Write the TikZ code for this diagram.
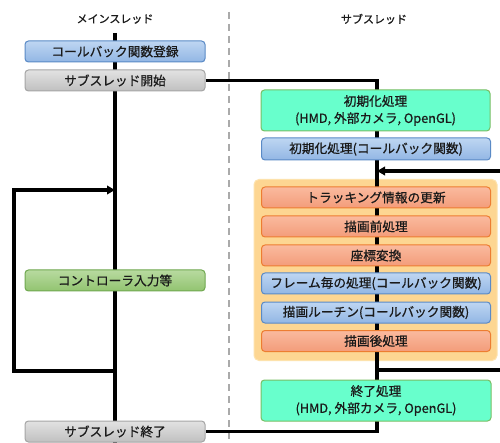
\documentclass[tikz,border=0pt]{standalone}
\usepackage{fontspec}
\setmainfont{Noto Sans CJK JP}
\newfontfamily\boxfont{Noto Sans CJK JP}[FakeBold=0.8]
\usetikzlibrary{arrows.meta}
\pgfdeclarelayer{bg}
\pgfdeclarelayer{lines}
\pgfsetlayers{bg,lines,main}
\definecolor{txt}{HTML}{1A1A1A}
\tikzset{
  box/.style={rectangle, rounded corners=3.5pt, line width=1pt, minimum height=21pt,
    inner sep=0pt, text=txt, font=\boxfont\fontsize{12.7}{17}\selectfont, align=center},
  bluebox/.style={box, draw={rgb,255:red,90;green,138;blue,198}, top color={rgb,255:red,190;green,214;blue,242}, bottom color={rgb,255:red,146;green,182;blue,228}},
  graybox/.style={box, draw={rgb,255:red,165;green,165;blue,165}, top color={rgb,255:red,226;green,226;blue,226}, bottom color={rgb,255:red,192;green,192;blue,192}},
  greenbox/.style={box, draw={rgb,255:red,112;green,168;blue,80}, top color={rgb,255:red,184;green,218;blue,160}, bottom color={rgb,255:red,146;green,196;blue,112}},
  mintbox/.style={box, draw={rgb,255:red,120;green,190;blue,100}, fill={rgb,255:red,104;green,255;blue,204}},
  orangebox/.style={box, draw={rgb,255:red,237;green,125;blue,49}, top color={rgb,255:red,250;green,186;blue,158}, bottom color={rgb,255:red,243;green,156;blue,122}},
  frame/.style={rectangle, rounded corners=5pt, line width=1pt, fill={rgb,255:red,253;green,214;blue,146}, draw={rgb,255:red,253;green,226;blue,172}},
  conn/.style={line width=3.1pt, draw=black},
  arr/.style={conn, -{Triangle[length=8pt,width=8.5pt]}},
  title/.style={font=\boxfont\fontsize{11}{13}\selectfont, text=txt, inner sep=0pt},
}
\begin{document}
\begin{tikzpicture}[x=1pt,y=-1pt]
\useasboundingbox (0,0) rectangle (500,443);
\begin{pgfonlayer}{bg}
\fill[white] (0,0) rectangle (500,443);
\end{pgfonlayer}
% titles
\node[title] (tmain) at (115,19) {メインスレッド};
\node[title] (tsub) at (374,19) {サブスレッド};
% main thread boxes
\node[bluebox, minimum width=180pt] (reg) at (115,51.5) {コールバック関数登録};
\node[graybox, minimum width=180pt] (start) at (115,80.5) {サブスレッド開始};
\node[greenbox, minimum width=180pt] (ctrl) at (115,280.5) {コントローラ入力等};
\node[graybox, minimum width=180pt] (stop) at (115,431.5) {サブスレッド終了};
% sub thread boxes
\node[mintbox, minimum width=229pt, minimum height=41pt] (init) at (375.5,110.5) {初期化処理\\(HMD, 外部カメラ, OpenGL)};
\node[bluebox, minimum width=229pt, minimum height=22pt] (initcb) at (376,149) {初期化処理(コールバック関数)};
\begin{pgfonlayer}{bg}
\node[frame, minimum width=243pt, minimum height=181pt] (loopframe) at (375.5,270) {};
\end{pgfonlayer}
\node[orangebox, minimum width=229pt] (trk) at (376,197.5) {トラッキング情報の更新};
\node[orangebox, minimum width=229pt] (pre) at (376,226.5) {描画前処理};
\node[orangebox, minimum width=229pt] (coord) at (376,255.5) {座標変換};
\node[bluebox, minimum width=229pt] (perframe) at (376,283.5) {フレーム毎の処理(コールバック関数)};
\node[bluebox, minimum width=229pt] (render) at (376,312.5) {描画ルーチン(コールバック関数)};
\node[orangebox, minimum width=229pt] (post) at (376,341) {描画後処理};
\node[mintbox, minimum width=230pt, minimum height=41pt] (fin) at (376,400.5) {終了処理\\(HMD, 外部カメラ, OpenGL)};
% coordinates
\coordinate (mtop) at (115,33);
\coordinate (mbot) at (115,445);
\coordinate (subtop) at (377,80.5);
\coordinate (subbot) at (377,431.5);
\coordinate (rlb) at (377,370);
\coordinate (rlbr) at (504,370);
\coordinate (rltr) at (504,171);
\coordinate (rlt) at (377,171);
\coordinate (llb) at (115,371);
\coordinate (llbl) at (14,371);
\coordinate (lltl) at (14,190);
\coordinate (llt) at (115,190);
\coordinate (dtop) at (229,12);
\coordinate (dbot) at (229,445);
\begin{pgfonlayer}{lines}
\draw[line width=1.6pt, draw={rgb,255:red,170;green,170;blue,170}, dash pattern=on 7pt off 5pt] (dtop) -- (dbot);
\draw[conn] (mtop) -- (mbot);
\draw[conn] (start.east) -- (subtop) -- (subbot) -- (stop.east);
\draw[arr] (rlb) -- (rlbr) -- (rltr) -- (rlt);
\draw[arr] (llb) -- (llbl) -- (lltl) -- (llt);
\end{pgfonlayer}
\end{tikzpicture}
\end{document}
